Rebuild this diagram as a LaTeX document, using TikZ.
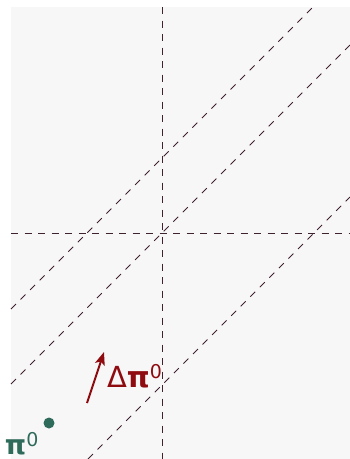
\documentclass[tikz,border=0pt]{standalone}
\usepackage{fontspec}
\setmainfont{DejaVu Sans}
\usetikzlibrary{arrows.meta}
\definecolor{bgc}{HTML}{F8F7F8}
\definecolor{linec}{HTML}{3F2230}
\definecolor{redc}{HTML}{8E0B10}
\definecolor{greenc}{HTML}{2E6B5A}
\begin{document}
\begin{tikzpicture}[x=1pt,y=-1pt,
  guide/.style={draw=linec,line width=0.9pt,dash pattern=on 7pt off 6.5pt},
  lbl/.style={anchor=base west,inner sep=0pt,outer sep=0pt},
  vec/.style={draw=redc,line width=2pt,-{Stealth[length=13pt,width=10pt,inset=3pt]}}]
\useasboundingbox (0,0) rectangle (350,459);
\fill[bgc] (11,7) rectangle (350,459);
% axes
\draw[guide] (162,7) -- (162,459);
\draw[guide] (11,233) -- (350,233);
% diagonals
\draw[guide] (11,309) -- (313,7);
\draw[guide] (11,384) -- (350,45);
\draw[guide] (88,459) -- (350,197);
% point
\node[circle,fill=greenc,minimum size=11pt,inner sep=0pt] (dot) at (49,423) {};
\node[lbl,text=greenc] (pilabel) at (5,454) {\fontsize{27}{30}\selectfont\bfseries π\raisebox{8pt}{\mdseries\fontsize{19}{20}\selectfont 0}};
% vector
\coordinate (vtail) at (87,403);
\coordinate (vhead) at (104,352);
\draw[vec] (vtail) -- (vhead);
\node[lbl,text=redc] (dpilabel) at (107,387) {\fontsize{29}{30}\selectfont Δ{\bfseries π}\raisebox{9pt}{\fontsize{19}{20}\selectfont 0}};
\end{tikzpicture}
\end{document}
